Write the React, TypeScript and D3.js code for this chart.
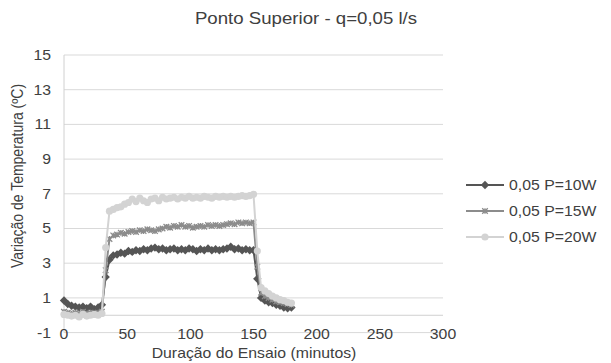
import { useMemo } from "react";
import * as d3 from "d3";

// Ponto Superior - q=0,05 l/s : temperature change vs test duration
const TIMES = [
  0, 3, 6, 9, 12, 15, 18, 21, 24, 27, 30, 33, 36, 39, 42, 45, 48, 51, 54, 57,
  60, 63, 66, 69, 72, 75, 78, 81, 84, 87, 90, 93, 96, 99, 102, 105, 108, 111,
  114, 117, 120, 123, 126, 129, 132, 135, 138, 141, 144, 147, 150, 153, 156,
  159, 162, 165, 168, 171, 174, 177, 180,
];

const P10 = [
  0.85, 0.65, 0.55, 0.5, 0.45, 0.5, 0.4, 0.5, 0.35, 0.45, 0.6, 2.2, 3.2, 3.45,
  3.5, 3.6, 3.55, 3.7, 3.65, 3.75, 3.7, 3.8, 3.75, 3.85, 3.9, 3.8, 3.85, 3.75,
  3.8, 3.85, 3.75, 3.8, 3.75, 3.85, 3.8, 3.7, 3.8, 3.75, 3.85, 3.75, 3.8, 3.75,
  3.8, 3.85, 3.95, 3.8, 3.85, 3.75, 3.8, 3.75, 3.75, 2.1, 1.0, 0.85, 0.75, 0.7,
  0.6, 0.55, 0.45, 0.4, 0.45,
];

const P15 = [
  0.2, 0.15, 0.1, 0.15, 0.1, 0.2, 0.1, 0.15, 0.1, 0.15, 0.2, 2.6, 4.4, 4.6,
  4.65, 4.75, 4.7, 4.8, 4.85, 4.8, 4.9, 4.85, 4.95, 4.9, 4.85, 4.95, 5.0, 5.1,
  5.05, 5.15, 5.1, 5.2, 5.1, 5.15, 5.05, 5.1, 5.15, 5.1, 5.2, 5.15, 5.2, 5.15,
  5.2, 5.25, 5.3, 5.25, 5.35, 5.3, 5.35, 5.3, 5.35, 2.8, 1.3, 1.1, 1.0, 0.9,
  0.8, 0.75, 0.7, 0.65, 0.6,
];

const P20 = [
  0.05, 0.0, -0.05, 0.0, -0.1, 0.05, -0.05, 0.0, 0.05, 0.0, 0.1, 3.9, 6.0, 6.1,
  6.2, 6.25, 6.4, 6.5, 6.7, 6.55, 6.75, 6.6, 6.5, 6.7, 6.75, 6.6, 6.8, 6.7,
  6.75, 6.8, 6.7, 6.8, 6.75, 6.85, 6.75, 6.8, 6.75, 6.85, 6.8, 6.75, 6.85, 6.8,
  6.85, 6.8, 6.85, 6.8, 6.85, 6.9, 6.85, 6.9, 6.97, 3.7, 1.6, 1.4, 1.25, 1.1,
  1.0, 0.9, 0.85, 0.75, 0.7,
];

const SERIES_LABELS = ["0,05 P=10W", "0,05 P=15W", "0,05 P=20W"];
const X_TICKS = [0, 50, 100, 150, 200, 250, 300];
const Y_TICKS = [-1, 1, 3, 5, 7, 9, 11, 13, 15];

const COLORS = ["#555555", "#8c8c8c", "#d3d3d3"];
const SHAPES = ["diamond", "star", "circle"];
const FONT = "'Liberation Sans', Arial, sans-serif";
const TEXT = "#404040";
// the source picture is a little wider than tall, so glyphs are stretched
const SX = 1.13;

const W = 611;
const H = 363;
const PLOT = { left: 64, right: 443, top: 55, bottom: 332.6 };

function Marker({ shape, x, y, color }: { shape: string; x: number; y: number; color: string }) {
  if (shape === "diamond") {
    const s = 4.2;
    return <path d={`M${x},${y - s}L${x + s},${y}L${x},${y + s}L${x - s},${y}Z`} fill={color} />;
  }
  if (shape === "circle") {
    return <circle cx={x} cy={y} r={3.6} fill={color} />;
  }
  const s = 2.8;
  return (
    <path
      d={`M${x - s},${y - s}L${x + s},${y + s}M${x - s},${y + s}L${x + s},${y - s}M${x},${y - s}L${x},${y + s}`}
      stroke={color}
      strokeWidth={1.3}
    />
  );
}

function Label({
  x, y, children, size = 14, anchor = "start", dy, rotate = 0,
}: {
  x: number; y: number; children: React.ReactNode; size?: number;
  anchor?: string; dy?: string; rotate?: number;
}) {
  const tf = rotate
    ? `translate(${x},${y}) rotate(${rotate}) scale(1,${SX})`
    : `translate(${x},${y}) scale(${SX},1)`;
  return (
    <text transform={tf} dy={dy} textAnchor={anchor} fontSize={size} fontFamily={FONT} fill={TEXT}>
      {children}
    </text>
  );
}

export default function App() {
  const x = d3.scaleLinear().domain([0, 300]).range([PLOT.left, PLOT.right]);
  const y = d3.scaleLinear().domain([-1, 15]).range([PLOT.bottom, PLOT.top]);

  const series = useMemo(
    () => [P10, P15, P20].map((vals) => TIMES.map((t, i) => ({ t, v: vals[i] }))),
    []
  );

  const line = d3
    .line<{ t: number; v: number }>()
    .x((d) => x(d.t))
    .y((d) => y(d.v));

  return (
    <div style={{ position: "fixed", left: 0, top: 0 }}>
      <svg width={W} height={H} style={{ display: "block", background: "#fff" }}>
        {/* title */}
        <Label x={306} y={24} size={16.5} anchor="middle">
          Ponto Superior - q=0,05 l/s
        </Label>

        {/* gridlines */}
        {Y_TICKS.map((t) => (
          <line key={t} x1={PLOT.left} x2={PLOT.right} y1={y(t)} y2={y(t)} stroke="#d9d9d9" strokeWidth={1} />
        ))}
        {/* y axis */}
        <line x1={PLOT.left} x2={PLOT.left} y1={PLOT.top} y2={PLOT.bottom} stroke="#d0d0d0" strokeWidth={1} />
        {/* x axis at zero */}
        <line x1={PLOT.left} x2={PLOT.right} y1={y(0)} y2={y(0)} stroke="#d0d0d0" strokeWidth={1} />

        {/* y tick labels */}
        {Y_TICKS.map((t) => (
          <Label key={t} x={51} y={y(t)} dy="0.35em" anchor="end">
            {t}
          </Label>
        ))}
        {/* x tick labels */}
        {X_TICKS.map((t) => (
          <Label key={t} x={x(t)} y={PLOT.bottom + 1} dy="0.35em" anchor="middle">
            {t}
          </Label>
        ))}

        {/* axis titles */}
        <Label x={254} y={358} anchor="middle">
          Duração do Ensaio (minutos)
        </Label>
        <Label x={23} y={176} anchor="middle" rotate={-90}>
          Variação de Temperatura (ºC)
        </Label>

        {/* series */}
        {series.map((s, i) => (
          <g key={i}>
            <path d={line(s) ?? ""} fill="none" stroke={COLORS[i]} strokeWidth={2} />
            {s.map((d) => (
              <Marker key={d.t} shape={SHAPES[i]} x={x(d.t)} y={y(d.v)} color={COLORS[i]} />
            ))}
          </g>
        ))}

        {/* legend */}
        {SERIES_LABELS.map((lab, i) => {
          const ly = 185 + i * 26;
          return (
            <g key={lab}>
              <line x1={466} x2={504} y1={ly} y2={ly} stroke={COLORS[i]} strokeWidth={2} />
              <Marker shape={SHAPES[i]} x={485} y={ly} color={COLORS[i]} />
              <Label x={509} y={ly} dy="0.35em">
                {lab}
              </Label>
            </g>
          );
        })}
      </svg>
    </div>
  );
}
